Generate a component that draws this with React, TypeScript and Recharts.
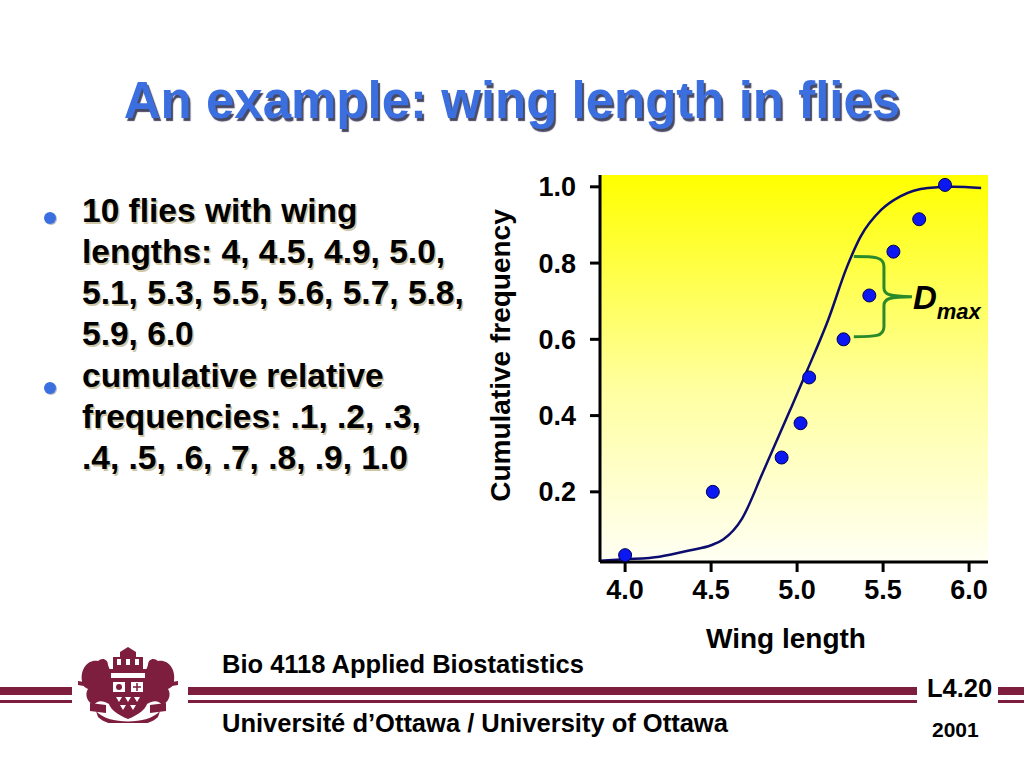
import { ComposedChart, Line, Scatter, XAxis, YAxis, CartesianGrid, ReferenceArea, Label } from "recharts";

// tick labels
const xTicks = [4, 4.5, 5, 5.5, 6];
const yTicks = [0.2, 0.4, 0.6, 0.8, 1.0];

// observed flies (as plotted)
const wingLength = [4.0, 4.51, 4.91, 5.02, 5.07, 5.27, 5.42, 5.56, 5.71, 5.86];
const cumFreq = [0.034, 0.2, 0.29, 0.38, 0.5, 0.6, 0.715, 0.83, 0.915, 1.005];

// fitted normal cdf curve
const curveX = [3.854, 4.0, 4.2, 4.38, 4.5, 4.57, 4.68, 4.8, 4.96, 5.06, 5.18, 5.29, 5.37, 5.49, 5.6, 5.76, 5.91, 6.07];
const curveY = [0.019, 0.023, 0.03, 0.047, 0.06, 0.075, 0.13, 0.25, 0.415, 0.52, 0.65, 0.79, 0.87, 0.94, 0.975, 0.997, 1.0, 0.997];

// D max bracket (x from, x to; y bottom, y top)
const dmaxX = [5.33, 5.505];
const dmaxY = [0.607, 0.817];

const points = wingLength.map((x, i) => ({ x, y: cumFreq[i] }));
const curve = curveX.map((x, i) => ({ x, y: curveY[i] }));

const FONT = '"Liberation Sans", Arial, Helvetica, sans-serif';
const MAROON = "#7e1e3e";

const Dot = (p: any) => (
  <circle cx={p.cx} cy={p.cy} r={6.5} fill="#0c18f2" stroke="#000050" strokeWidth={1} />
);

const Brace = (p: any) => {
  const { x, y, width, height } = p;
  const xs = x + width;
  const xt = xs + 28;
  const y1 = y + height;
  const m = y + height / 2;
  const d =
    `M${x},${y} C${x + width * 0.7},${y} ${xs},${y} ${xs},${y + 10} L${xs},${m - 9} C${xs},${m - 2} ${xs + 6},${m} ${xt},${m} ` +
    `M${x},${y1} C${x + width * 0.7},${y1} ${xs},${y1} ${xs},${y1 - 10} L${xs},${m + 9} C${xs},${m + 2} ${xs + 6},${m} ${xt},${m}`;
  return (
    <g>
      <path d={d} fill="none" stroke="#2a8a2a" strokeWidth={3} />
      <text x={xt + 1} y={m + 12} fontFamily={FONT} fontWeight="bold" fontStyle="italic" fontSize={33} fill="#000">
        D
        <tspan fontSize={22} dy={10}>max</tspan>
      </text>
    </g>
  );
};

const YLabel = (p: any) => {
  const vb = p.viewBox || { x: 60, y: 15, width: 80, height: 387 };
  const cx = vb.x - 20;
  const cy = vb.y + vb.height / 2 - 13;
  return (
    <text x={cx} y={cy} transform={`rotate(-90, ${cx}, ${cy})`} textAnchor="middle" dominantBaseline="central"
      fontFamily={FONT} fontWeight="bold" fontSize={28} fill="#000">
      Cumulative frequency
    </text>
  );
};

const XLabel = (p: any) => {
  const vb = p.viewBox || { x: 140, y: 402, width: 388, height: 90 };
  return (
    <text x={vb.x + vb.width / 2 - 8} y={vb.y + 86} textAnchor="middle" fontFamily={FONT} fontWeight="bold" fontSize={28} fill="#000">
      Wing length
    </text>
  );
};

const tickStyle = { fill: "#000", fontFamily: FONT, fontWeight: "bold", fontSize: 27 } as any;

const Crest = () => (
  <svg width={100} height={76} viewBox="0 0 100 76" style={{ position: "absolute", left: 78, top: 647 }}>
    {/* building on top */}
    <path d="M35,22 L35,10 L42,10 L42,5 L50,0 L58,5 L58,10 L65,10 L65,22 Z" fill={MAROON} />
    <rect x={39} y={12} width={4} height={6} fill="#fff" />
    <rect x={48} y={12} width={4} height={6} fill="#fff" />
    <rect x={57} y={12} width={4} height={6} fill="#fff" />
    {/* lions */}
    <path d="M4,34 C2,22 10,12 20,14 C24,10 30,12 30,18 L33,26 L33,58 C26,54 20,52 16,58 C10,56 6,48 10,42 C6,40 4,38 4,34 Z" fill={MAROON} />
    <path d="M96,34 C98,22 90,12 80,14 C76,10 70,12 70,18 L67,26 L67,58 C74,54 80,52 84,58 C90,56 94,48 90,42 C94,40 96,38 96,34 Z" fill={MAROON} />
    <path d="M0,34 L12,36 L12,40 L0,38 Z M100,34 L88,36 L88,40 L100,38 Z" fill={MAROON} />
    {/* shield */}
    <path d="M30,22 L70,22 L70,52 C70,62 60,68 50,72 C40,68 30,62 30,52 Z" fill={MAROON} />
    <rect x={33} y={26} width={34} height={5} fill="#fff" />
    <rect x={34} y={34} width={14} height={12} fill="#fff" stroke={MAROON} strokeWidth={2} />
    <rect x={52} y={34} width={14} height={12} fill="#fff" stroke={MAROON} strokeWidth={2} />
    <circle cx={41} cy={40} r={3} fill={MAROON} />
    <path d="M59,36 L59,44 M55,40 L63,40" stroke={MAROON} strokeWidth={1.5} />
    <path d="M38,50 L44,50 L41,55 Z M47,50 L53,50 L50,55 Z M56,50 L62,50 L59,55 Z M42,58 L48,58 L45,63 Z M52,58 L58,58 L55,63 Z" fill="#fff" />
    {/* scroll */}
    <path d="M12,56 L28,58 L28,66 L12,64 Z M88,56 L72,58 L72,66 L88,64 Z" fill={MAROON} />
    <path d="M18,64 C30,78 70,78 82,64 L80,70 C68,82 32,82 20,70 Z" fill={MAROON} />
  </svg>
);

const bulletText: React.CSSProperties = {
  position: "absolute",
  left: 82,
  fontFamily: FONT,
  fontWeight: "bold",
  fontSize: 33.5,
  color: "#000",
  whiteSpace: "nowrap",
  textShadow: "1.5px 1.5px 0 #cfc6a6",
  lineHeight: 1,
};

const bulletLines1 = ["10 flies with wing", "lengths: 4, 4.5, 4.9, 5.0,", "5.1, 5.3, 5.5, 5.6, 5.7, 5.8,", "5.9, 6.0"];
const bulletLines2 = ["cumulative relative", "frequencies: .1, .2, .3,", ".4, .5, .6, .7, .8, .9, 1.0"];

const BulletDot = ({ y }: { y: number }) => (
  <div style={{ position: "absolute", left: 44, top: y - 6, width: 12, height: 12, borderRadius: 6, background: "#3b6fe0", boxShadow: "1px 1px 0 #b8b8c8" }} />
);

const Bar = ({ left, width }: { left: number; width: number }) => (
  <>
    <div style={{ position: "absolute", left, top: 687, width, height: 8, background: MAROON }} />
    <div style={{ position: "absolute", left, top: 700, width, height: 3, background: MAROON }} />
  </>
);

export default function App() {
  return (
    <div style={{ position: "absolute", left: 0, top: 0, width: 1024, height: 768, background: "#fff", overflow: "hidden", fontFamily: FONT }}>
      <div style={{ position: "absolute", left: 0, top: 75, width: 1024, textAlign: "center", fontSize: 51, fontWeight: "bold", color: "#3b6fe0", textShadow: "2px 3px 1px rgba(40,40,70,0.85)", lineHeight: 1 }}>
        An example: wing length in flies
      </div>

      <BulletDot y={218} />
      {bulletLines1.map((t, i) => (
        <div key={t} style={{ ...bulletText, top: 225 + i * 41 - 31 }}>{t}</div>
      ))}
      <BulletDot y={388} />
      {bulletLines2.map((t, i) => (
        <div key={t} style={{ ...bulletText, top: 390 + i * 41 - 31 }}>{t}</div>
      ))}

      <div style={{ position: "absolute", left: 460, top: 160 }}>
        <ComposedChart width={540} height={500} margin={{ top: 15, right: 12, bottom: 8, left: 60 }}>
          <defs>
            <linearGradient id="bgGrad" x1="0" y1="0" x2="0" y2="1">
              <stop offset="0%" stopColor="#ffff00" />
              <stop offset="55%" stopColor="#ffffa0" />
              <stop offset="100%" stopColor="#fffff4" />
            </linearGradient>
          </defs>
          <CartesianGrid fill="url(#bgGrad)" fillOpacity={1} stroke="none" horizontal={false} vertical={false} />
          <XAxis
            type="number"
            dataKey="x"
            domain={[3.854, 6.11]}
            allowDataOverflow
            ticks={xTicks}
            tickFormatter={(v: number) => v.toFixed(1)}
            height={90}
            axisLine={{ stroke: "#000", strokeWidth: 3 }}
            tickLine={{ stroke: "#000", strokeWidth: 3 }}
            tickSize={10}
            tickMargin={8}
            tick={tickStyle}
          >
            <Label content={XLabel} />
          </XAxis>
          <YAxis
            type="number"
            dataKey="y"
            domain={[0.016, 1.031]}
            allowDataOverflow
            ticks={yTicks}
            tickFormatter={(v: number) => v.toFixed(1)}
            width={80}
            axisLine={{ stroke: "#000", strokeWidth: 3 }}
            tickLine={{ stroke: "#000", strokeWidth: 3 }}
            tickSize={10}
            tickMargin={14}
            tick={tickStyle}
          >
            <Label content={YLabel} />
          </YAxis>
          <Line data={curve} dataKey="y" type="monotone" stroke="#0c0c6e" strokeWidth={2.5} dot={false} isAnimationActive={false} />
          <Scatter data={points} dataKey="y" shape={Dot} isAnimationActive={false} />
          <ReferenceArea x1={dmaxX[0]} x2={dmaxX[1]} y1={dmaxY[0]} y2={dmaxY[1]} shape={Brace} ifOverflow="visible" />
        </ComposedChart>
      </div>

      <Bar left={0} width={72} />
      <Crest />
      <Bar left={188} width={729} />
      <Bar left={998} width={26} />

      <div style={{ position: "absolute", left: 222, top: 676 - 24, fontSize: 25.5, fontWeight: "bold", lineHeight: 1, whiteSpace: "nowrap" }}>
        Bio 4118 Applied Biostatistics
      </div>
      <div style={{ position: "absolute", left: 222, top: 735 - 24, fontSize: 25.5, fontWeight: "bold", lineHeight: 1, whiteSpace: "nowrap" }}>
        Université d’Ottawa / University of Ottawa
      </div>
      <div style={{ position: "absolute", left: 927, top: 700 - 24, fontSize: 25.5, fontWeight: "bold", lineHeight: 1, whiteSpace: "nowrap" }}>
        L4.20
      </div>
      <div style={{ position: "absolute", left: 932, top: 738 - 19.5, fontSize: 21, fontWeight: "bold", lineHeight: 1, whiteSpace: "nowrap" }}>
        2001
      </div>
    </div>
  );
}
